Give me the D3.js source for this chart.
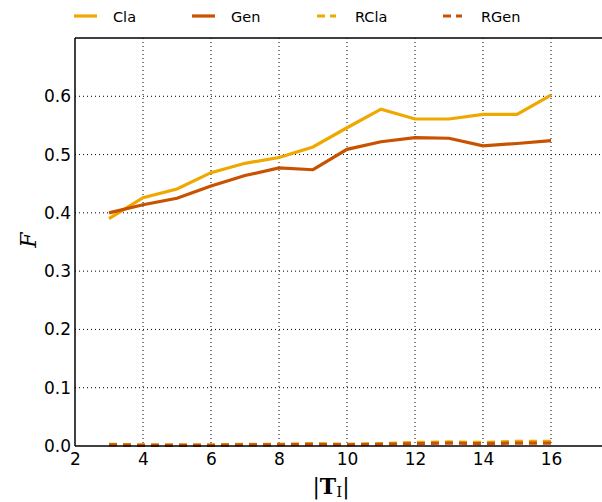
<!DOCTYPE html>
<html><head><meta charset="utf-8">
<script src="https://cdn.jsdelivr.net/npm/d3@7"></script>
<style>body{margin:0;background:#fff}svg{display:block}</style>
</head><body>
<script>
const sizes = [3,4,5,6,7,8,9,10,11,12,13,14,15,16];
const cla  = [0.390,0.426,0.441,0.469,0.485,0.495,0.513,0.546,0.578,0.561,0.561,0.569,0.569,0.602];
const gen  = [0.400,0.414,0.425,0.446,0.464,0.477,0.474,0.509,0.522,0.529,0.528,0.515,0.519,0.524];
const rcla = [0.003,0.002,0.002,0.002,0.003,0.003,0.004,0.003,0.004,0.006,0.007,0.006,0.008,0.008];
const rgen = [0.002,0.001,0.001,0.001,0.002,0.002,0.003,0.002,0.003,0.004,0.005,0.004,0.005,0.005];
const xTicks = [2,4,6,8,10,12,14,16];
const yTicks = [0.0,0.1,0.2,0.3,0.4,0.5,0.6];
const seriesNames = ["Cla","Gen","RCla","RGen"];
const seriesColors = ["#EEA800","#C85200","#EEA800","#C85200"];
const seriesDashed = [false,false,true,true];
const seriesData = [cla,gen,rcla,rgen];

const W=602,H=502;
const m={left:75,top:38,right:619,bottom:446};
const svg=d3.select("body").append("svg").attr("width",W).attr("height",H);
const x=d3.scaleLinear().domain([2,18]).range([m.left,m.right]);
const y=d3.scaleLinear().domain([0,0.7]).range([m.bottom,m.top]);
const font="'DejaVu Sans', sans-serif";

// grid
const g=svg.append("g");
g.selectAll(".gx").data(xTicks.slice(1)).join("line")
 .attr("x1",d=>x(d)).attr("x2",d=>x(d)).attr("y1",m.top).attr("y2",m.bottom)
 .attr("stroke","#000").attr("stroke-width",1).attr("stroke-dasharray","1,3");
g.selectAll(".gy").data(yTicks.slice(1)).join("line")
 .attr("x1",m.left).attr("x2",m.right).attr("y1",d=>y(d)).attr("y2",d=>y(d))
 .attr("stroke","#000").attr("stroke-width",1).attr("stroke-dasharray","1,3");

// lines
const line=d3.line().x((d,i)=>x(sizes[i])).y(d=>y(d));
seriesData.forEach((s,k)=>{
  svg.append("path").datum(s).attr("d",line).attr("fill","none")
   .attr("stroke",seriesColors[k]).attr("stroke-width",3.2)
   .attr("stroke-dasharray",seriesDashed[k]?"8,6":null);
});

// axes
const xa=svg.append("g").attr("transform",`translate(0,${m.bottom})`)
 .call(d3.axisBottom(x).tickValues(xTicks).tickFormat(d3.format("d")).tickSize(0).tickPadding(5));
const ya=svg.append("g").attr("transform",`translate(${m.left},0)`)
 .call(d3.axisLeft(y).tickValues(yTicks).tickFormat(d3.format(".1f")).tickSize(0).tickPadding(4));
[xa,ya].forEach(a=>{a.select(".domain").remove();a.selectAll("text").attr("font-family",font).attr("font-size",17).attr("fill","#000");});
xa.selectAll("text").attr("dy","0.85em");

// spines
svg.append("line").attr("x1",m.left).attr("x2",m.right).attr("y1",m.top).attr("y2",m.top).attr("stroke","#000").attr("stroke-width",1.5);
svg.append("line").attr("x1",m.left).attr("x2",m.right).attr("y1",m.bottom).attr("y2",m.bottom).attr("stroke","#000").attr("stroke-width",1.5);
svg.append("line").attr("x1",m.left).attr("x2",m.left).attr("y1",m.top).attr("y2",m.bottom).attr("stroke","#000").attr("stroke-width",1.5);

// axis labels
svg.append("text").attr("transform","translate(36,240) rotate(-90)").attr("text-anchor","middle")
 .attr("font-family","'DejaVu Serif', serif").attr("font-style","italic").attr("font-size",22).text("F");
const xl=svg.append("text").attr("x",331).attr("y",494).attr("text-anchor","middle")
 .attr("font-family","'DejaVu Serif', serif").attr("font-size",22);
xl.append("tspan").text("|");
xl.append("tspan").attr("font-weight","bold").text("T");
xl.append("tspan").attr("font-size",15).attr("dy",3).text("I");
xl.append("tspan").attr("dy",-3).text("|");

// legend
const legX=[74,192,317,443];
seriesNames.forEach((n,k)=>{
  const lx=legX[k];
  svg.append("line").attr("x1",lx).attr("x2",lx+(seriesDashed[k]?19:23)).attr("y1",16).attr("y2",16)
   .attr("stroke",seriesColors[k]).attr("stroke-width",3.2).attr("stroke-dasharray",seriesDashed[k]?"8,5":null);
  svg.append("text").attr("x",lx+(seriesDashed[k]?38:39)).attr("y",21.5).attr("font-family",font).attr("font-size",14.5).text(n);
});
</script>
</body></html>
